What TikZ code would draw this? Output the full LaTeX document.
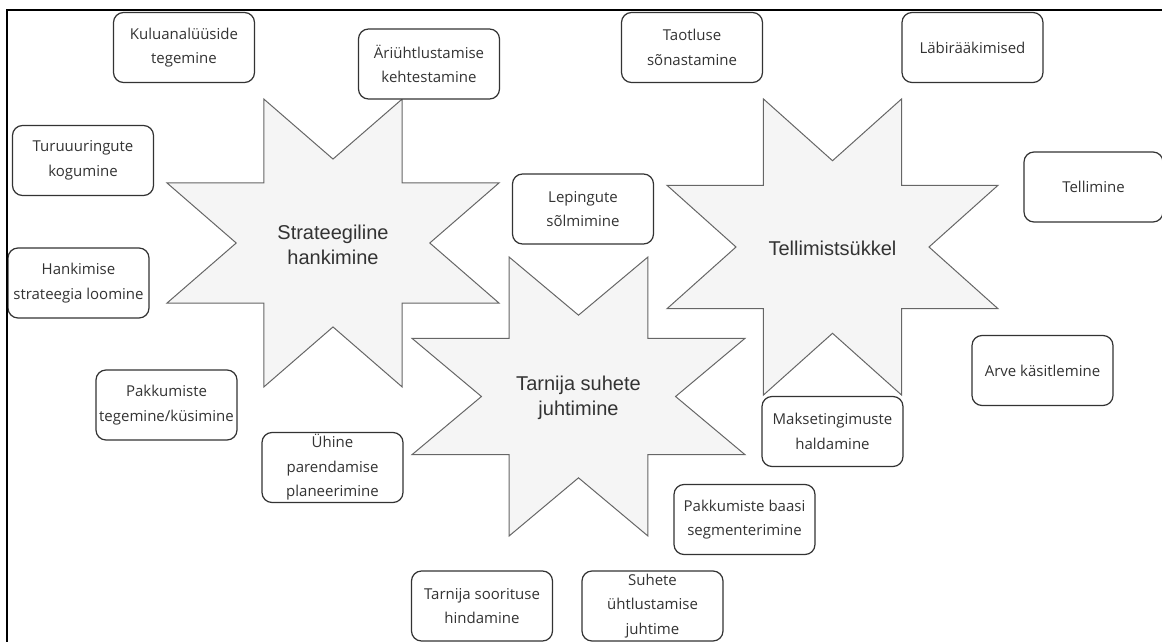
\documentclass[tikz,border=0pt]{standalone}
\usepackage{fontspec}
\setmainfont{Liberation Sans}
\newfontfamily\kastifont{Open Sans}
\usetikzlibrary{positioning}
\definecolor{tahetaust}{HTML}{F5F5F5}
\definecolor{tahejoon}{HTML}{666666}
\definecolor{kiri}{HTML}{333333}

\begin{document}
\begin{tikzpicture}[
  x=1pt, y=-1pt,
  taht/.pic={
    \draw[fill=tahetaust, draw=tahejoon, line width=1pt, line join=miter]
      (-0.417,-1) -- (0,-0.583) -- (0.417,-1) -- (0.417,-0.417) -- (1,-0.417)
      -- (0.583,0) -- (1,0.417) -- (0.417,0.417) -- (0.417,1) -- (0,0.583)
      -- (-0.417,1) -- (-0.417,0.417) -- (-1,0.417) -- (-0.583,0)
      -- (-1,-0.417) -- (-0.417,-0.417) -- cycle;
  },
  tahetekst/.style={align=center, text=kiri, font=\fontsize{20}{25}\selectfont, inner sep=0pt},
  tegevus/.style={draw=kiri, line width=1.2pt, rounded corners=10pt, fill=white,
                  minimum width=141pt, minimum height=70pt, align=center, inner sep=0pt,
                  text=kiri, font=\kastifont\fontsize{15}{24.5}\selectfont}
]
\useasboundingbox (0,0) rectangle (1162,642);
\clip (0,0) rectangle (1162,642);

\pic[xscale=166, yscale=144] at (333,243) {taht};
\pic[xscale=166.5, yscale=139.5] at (578.5,396.5) {taht};
\pic[xscale=165.5, yscale=148] at (832.5,247) {taht};

\node[tahetekst] (strateegiline) at (333,245) {Strateegiline\\hankimine};
\node[tahetekst] (tarnija)       at (578.5,398) {Tarnija suhete\\juhtimine};
\node[tahetekst] (tellimistsykkel) at (832.5,248) {Tellimistsükkel};

\node[tegevus] (kulu)       at (184,47.5)   {Kuluanalüüside\\tegemine};
\node[tegevus] (ariuht)     at (429,64)     {Äriühtlustamise\\kehtestamine};
\node[tegevus] (turu)       at (83,160.5)   {Turuuuringute\\kogumine};
\node[tegevus] (strateegia) at (78.5,283)   {Hankimise\\strateegia loomine};
\node[tegevus] (pakkumine)  at (166.5,405)  {Pakkumiste\\tegemine/küsimine};
\node[tegevus] (parendus)   at (332.5,467.5) {Ühine\\parendamise\\planeerimine};
\node[tegevus] (leping)     at (583,209)    {Lepingute\\sõlmimine};
\node[tegevus] (taotlus)    at (692,47.5)   {Taotluse\\sõnastamine};
\node[tegevus] (labiraak)   at (972.5,47.5) {Läbirääkimised};
\node[tegevus, minimum width=139pt] (tellimine) at (1093.5,187) {Tellimine};
\node[tegevus] (arve)       at (1042.5,370.5) {Arve käsitlemine};
\node[tegevus] (makse)      at (832.5,431.5) {Maksetingimuste\\haldamine};
\node[tegevus] (baas)       at (744.5,519.5) {Pakkumiste baasi\\segmenterimine};
\node[tegevus] (sooritus)   at (482,606)    {Tarnija soorituse\\hindamine};
\node[tegevus] (suhted)     at (652.5,606)  {Suhete\\ühtlustamise\\juhtime};

\draw[black, line width=2pt] (7,642) -- (7,10) -- (1162,10);

\end{tikzpicture}
\end{document}
